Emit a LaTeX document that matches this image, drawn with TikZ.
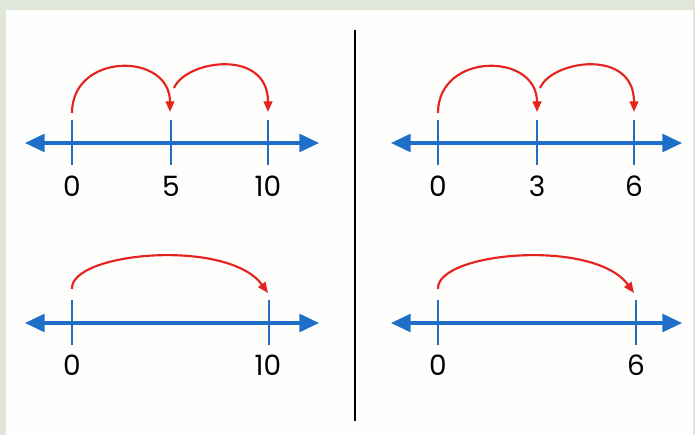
\documentclass[tikz,border=0pt]{standalone}
\usepackage{fontspec}
\setmainfont{Poppins}
\usetikzlibrary{arrows.meta,calc}
\definecolor{nlblue}{HTML}{1F6FC9}
\definecolor{jred}{HTML}{E5231F}
\definecolor{frame}{HTML}{DFE8D8}
\definecolor{paper}{HTML}{FEFEFC}
\tikzset{
  numline/.style={draw=nlblue, line width=3.4pt, {Triangle[length=15pt,width=13pt]}-{Triangle[length=15pt,width=13pt]}, shorten <=-1pt, shorten >=-1pt},
  tick/.style={draw=nlblue, line width=1.5pt},
  jump/.style={draw=jred, line width=1.6pt, -{Triangle[length=8pt,width=6.5pt]}},
  lbl/.style={font=\fontsize{21}{21}\selectfont, text=black, inner sep=0pt},
  divider/.style={draw=black, line width=1.5pt}
}
\begin{document}
\begin{tikzpicture}[x=0.75pt,y=-0.75pt]
\fill[frame] (0,0) rectangle (695,435);
\fill[paper] (6,10) rectangle (693,435);
\useasboundingbox (0,0) rectangle (695,435);
% divider
\coordinate (dT) at (355,30);
\coordinate (dB) at (355,421);
\draw[divider] (dT) -- (dB);
% ---------- top left ----------
\coordinate (aL) at (26,143); \coordinate (aR) at (318,143);
\coordinate (a0) at (72,143); \coordinate (a1) at (171,143); \coordinate (a2) at (268,143);
\draw[numline] (aL) -- (aR);
\foreach \p in {a0,a1,a2} \draw[tick] ($(\p)+(0,-23)$) -- ($(\p)+(0,22)$);
\node[lbl] (la0) at (72,186) {0};
\node[lbl] (la1) at (171,186) {5};
\node[lbl] (la2) at (268,186) {10};
\coordinate (ja0) at (72,113); \coordinate (ja1) at (170,112);
\coordinate (ja1s) at (174,88); \coordinate (ja2) at (268,112);
\draw[jump] (ja0) .. controls (72,52) and (170,52) .. (ja1);
\draw[jump] (ja1s) .. controls (186,60) and (268,48) .. (ja2);
% ---------- top right ----------
\coordinate (bL) at (392,143); \coordinate (bR) at (681,143);
\coordinate (b0) at (438,143); \coordinate (b1) at (537,143); \coordinate (b2) at (634,143);
\draw[numline] (bL) -- (bR);
\foreach \p in {b0,b1,b2} \draw[tick] ($(\p)+(0,-23)$) -- ($(\p)+(0,22)$);
\node[lbl] (lb0) at (438,186) {0};
\node[lbl] (lb1) at (537,186) {3};
\node[lbl] (lb2) at (634,186) {6};
\coordinate (jb0) at (438,113); \coordinate (jb1) at (537,112);
\coordinate (jb1s) at (540,88); \coordinate (jb2) at (634,112);
\draw[jump] (jb0) .. controls (438,52) and (537,52) .. (jb1);
\draw[jump] (jb1s) .. controls (552,60) and (634,48) .. (jb2);
% ---------- bottom left ----------
\coordinate (cL) at (26,323); \coordinate (cR) at (318,323);
\coordinate (c0) at (72,323); \coordinate (c2) at (269,323);
\draw[numline] (cL) -- (cR);
\foreach \p in {c0,c2} \draw[tick] ($(\p)+(0,-23)$) -- ($(\p)+(0,22)$);
\node[lbl] (lc0) at (72,365) {0};
\node[lbl] (lc2) at (268,365) {10};
\coordinate (jc0) at (72,289); \coordinate (jc2) at (268,293);
\draw[jump] (jc0) .. controls (70,252) and (228,238) .. (jc2);
% ---------- bottom right ----------
\coordinate (dL) at (392,323); \coordinate (dR) at (681,323);
\coordinate (d0) at (438,323); \coordinate (d2) at (636,323);
\draw[numline] (dL) -- (dR);
\foreach \p in {d0,d2} \draw[tick] ($(\p)+(0,-23)$) -- ($(\p)+(0,22)$);
\node[lbl] (ld0) at (438,365) {0};
\node[lbl] (ld2) at (636,365) {6};
\coordinate (jd0) at (438,289); \coordinate (jd2) at (634,293);
\draw[jump] (jd0) .. controls (436,252) and (594,238) .. (jd2);
\end{tikzpicture}
\end{document}
